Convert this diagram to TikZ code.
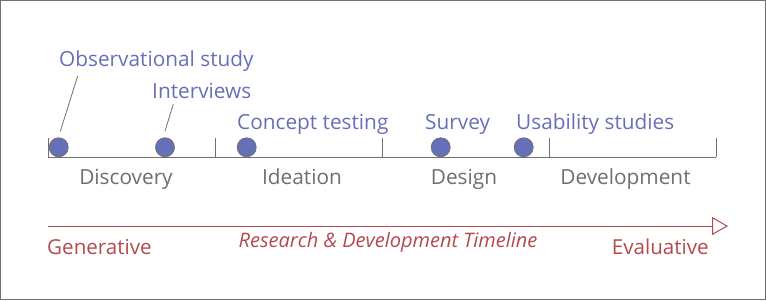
\documentclass[tikz,border=0pt]{standalone}
\usepackage{fontspec}
\setmainfont{Open Sans}
\usepackage{xcolor}
\usetikzlibrary{arrows.meta,positioning,calc}
\definecolor{dotblue}{HTML}{6670B8}
\definecolor{axgrey}{HTML}{707070}
\definecolor{txgrey}{HTML}{6E6E6E}
\definecolor{tlred}{HTML}{B24A4E}
\begin{document}
\begin{tikzpicture}[x=1pt, y=-1pt,
  dot/.style={circle, draw=axgrey, fill=dotblue, line width=0.8pt,
              minimum size=19pt, inner sep=0pt},
  meth/.style={text=dotblue, anchor=base west, inner sep=0pt, font=\fontsize{20.8}{24}\selectfont},
  phase/.style={text=txgrey, anchor=base, inner sep=0pt, font=\fontsize{20.8}{24}\selectfont},
  ax/.style={draw=axgrey, line width=1pt},
  lead/.style={draw=axgrey, line width=0.8pt},
  tl/.style={draw=tlred, line width=1pt, -{Triangle[open, length=16pt, width=18pt, fill=white]}},
  tlt/.style={text=tlred, anchor=base west, inner sep=0pt, font=\fontsize{20.6}{24}\selectfont}
]
\useasboundingbox (0,0) rectangle (766,300);
\draw[axgrey, line width=1pt] (0.5,0.5) rectangle (765.5,299.5);

% --- axis with phase ticks ----------------------------------------------
\coordinate (a0) at (48,157);
\coordinate (a1) at (215,157);
\coordinate (a2) at (382,157);
\coordinate (a3) at (549,157);
\coordinate (a4) at (716,157);
\draw[ax] (a0) -- (a4);
\foreach \t in {a0,a1,a2,a3,a4}
  \draw[ax] (\t) -- ++(0,-19);

\node[phase] (disc) at (126,184) {Discovery};
\node[phase] (idea) at (302,184) {Ideation};
\node[phase] (desg) at (464,184) {Design};
\node[phase] (devl) at (625.5,184) {Development};

% --- methods ------------------------------------------------------------
\node[dot] (obsdot) at (58.7,147.3) {};
\node[dot] (intdot) at (165,147.3) {};
\node[dot] (condot) at (246.7,147.3) {};
\node[dot] (surdot) at (440.7,147.3) {};
\node[dot] (usedot) at (523.7,147.3) {};

\node[meth] (obs) at (59,66)   {Observational study};
\node[meth] (int) at (152,98)  {Interviews};
\node[meth] (con) at (237,129) {Concept testing};
\node[meth] (sur) at (425,129) {Survey};
\node[meth] (use) at (516,129) {Usability studies};

\coordinate (obstip) at (77.7,76);
\coordinate (inttip) at (173.3,104);
\draw[lead] (obstip) -- ($(obsdot)+(1.6,-16)$);
\draw[lead] (inttip) -- ($(intdot)+(0,-16)$);

% --- timeline arrow -----------------------------------------------------
\coordinate (tstart) at (48,226);
\coordinate (tend) at (728,226);
\draw[tl] (tstart) -- (tend);
\node[tlt] (gen) at (47,254) {Generative};
\node[tlt, anchor=base east] (eval) at (709,254) {Evaluative};
\node[tlt, anchor=base, font=\fontsize{20}{24}\selectfont] (ttl) at (388,247) {\itshape Research \& Development Timeline};
\end{tikzpicture}
\end{document}
